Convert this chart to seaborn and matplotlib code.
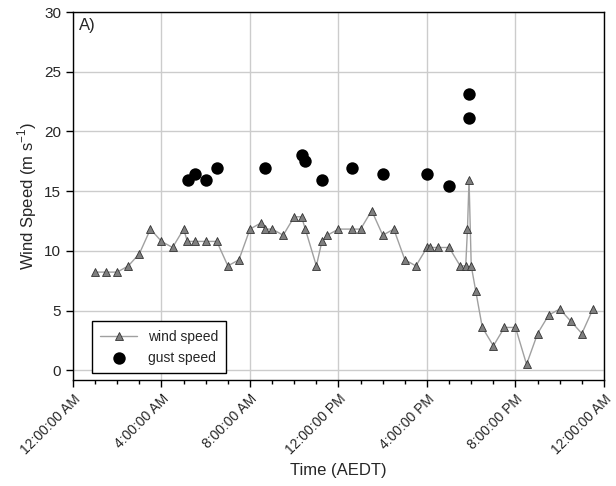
import matplotlib
matplotlib.use("Agg")
import matplotlib.pyplot as plt
from matplotlib.ticker import FixedLocator, MultipleLocator
import seaborn as sns

# wind observations (hours after midnight, m/s)
wind_hours = [1.0, 1.5, 2.0, 2.5, 3.0, 3.5, 4.0, 4.5, 5.0, 5.17, 5.5, 6.0, 6.5, 7.0, 7.5,
              8.0, 8.5, 8.67, 9.0, 9.5, 10.0, 10.33, 10.5, 11.0, 11.25, 11.5, 12.0, 12.6,
              13.0, 13.5, 14.0, 14.5, 15.0, 15.5, 16.0, 16.12, 16.5, 17.0, 17.5, 17.75,
              17.83, 17.9, 18.0, 18.2, 18.5, 19.0, 19.5, 20.0, 20.5, 21.0, 21.5, 22.0,
              22.5, 23.0, 23.5]
wind_speed = [8.23, 8.23, 8.23, 8.75, 9.77, 11.83, 10.80, 10.29, 11.83, 10.80, 10.80, 10.80,
              10.80, 8.75, 9.26, 11.83, 12.35, 11.83, 11.83, 11.32, 12.86, 12.86, 11.83,
              8.75, 10.80, 11.32, 11.83, 11.83, 11.83, 13.38, 11.32, 11.83, 9.26, 8.75,
              10.29, 10.29, 10.29, 10.29, 8.75, 8.75, 11.83, 15.95, 8.75, 6.69, 3.60,
              2.06, 3.60, 3.60, 0.51, 3.09, 4.63, 5.14, 4.12, 3.09, 5.14]

gust_hours = [5.2, 5.5, 6.0, 6.5, 8.67, 10.33, 10.5, 11.25, 12.6, 14.0, 16.0, 17.0, 17.88, 17.92]
gust_speed = [15.95, 16.46, 15.95, 16.98, 16.98, 18.00, 17.49, 15.95, 16.98, 16.46, 16.46,
              15.43, 23.15, 21.09]

tick_hours = [0, 4, 8, 12, 16, 20, 24]
tick_labels = ["12:00:00 AM", "4:00:00 AM", "8:00:00 AM", "12:00:00 PM",
               "4:00:00 PM", "8:00:00 PM", "12:00:00 AM"]

sns.set_style("ticks")
plt.rcParams["font.family"] = ["Liberation Sans", "DejaVu Sans"]

fig = plt.figure(figsize=(6.16, 4.86), dpi=100)
ax = fig.add_axes([0.1185, 0.2181, 0.862, 0.7572])

sns.lineplot(x=wind_hours, y=wind_speed, ax=ax, color="#a0a0a0", linewidth=1,
             marker="^", markersize=5.5, markerfacecolor="#7f7f7f",
             markeredgecolor="#333333", markeredgewidth=0.6, label="wind speed", zorder=3)
sns.scatterplot(x=gust_hours, y=gust_speed, ax=ax, color="black", s=80,
                edgecolor="black", linewidth=0, label="gust speed", zorder=4)

ax.set_xlim(0, 24)
ax.set_ylim(-0.8, 30)
ax.xaxis.set_major_locator(FixedLocator(tick_hours))
ax.xaxis.set_minor_locator(MultipleLocator(1))
ax.set_xticklabels(tick_labels, rotation=45, ha="right", rotation_mode="anchor", fontsize=10)
ax.set_yticks([0, 5, 10, 15, 20, 25, 30])
ax.tick_params(axis="y", labelsize=11)
ax.tick_params(which="major", length=5, width=1, color="black")
ax.tick_params(which="minor", length=3, width=1, color="black")

ax.grid(which="major", color="#cccccc", linewidth=1)
ax.set_axisbelow(True)
for sp in ax.spines.values():
    sp.set_visible(True)
    sp.set_color("black")
    sp.set_linewidth(1)

ax.set_xlabel("Time (AEDT)", fontsize=12)
ax.set_ylabel("Wind Speed (m s$^{\\mathregular{-1}}$)", fontsize=12)
ax.text(0.012, 0.985, "A)", transform=ax.transAxes, ha="left", va="top", fontsize=12)

leg = ax.legend(loc="lower left", bbox_to_anchor=(0.036, 0.019), borderaxespad=0,
                fancybox=False, edgecolor="black", framealpha=1, fontsize=10,
                handlelength=2.6, borderpad=0.6, labelspacing=0.5)
leg.get_frame().set_linewidth(1)

fig.savefig("out.png", dpi=100)
